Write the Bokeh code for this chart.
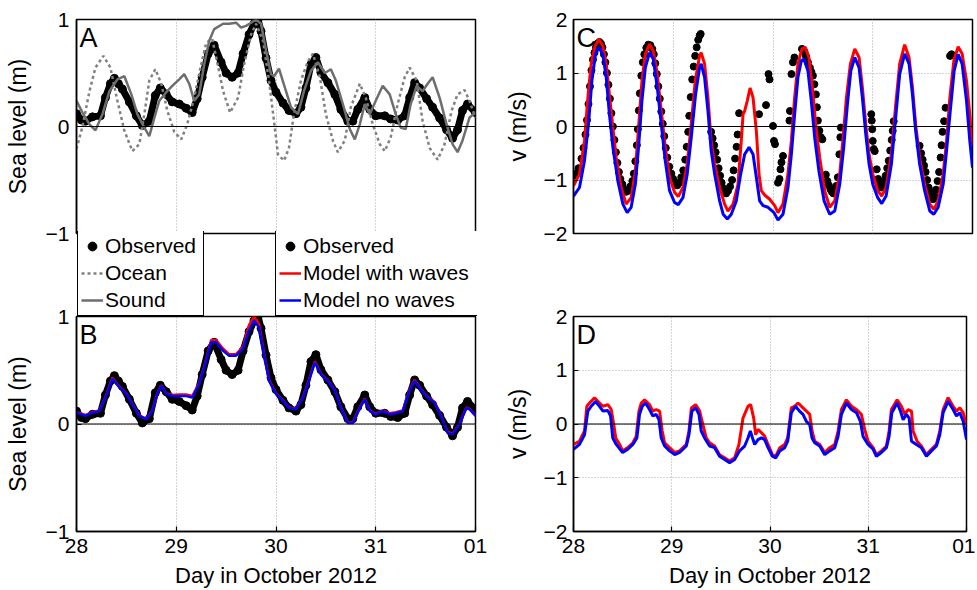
from bokeh.plotting import figure
from bokeh.layouts import row, column
from bokeh.models import FixedTicker, Span, Label, Legend, LegendItem, Range1d
from bokeh.embed import file_html
from bokeh.resources import INLINE

FONT = "Liberation Sans"

# ---------------- axes / ticks ----------------
x_ticks = [28, 29, 30, 31, 32]
x_tick_labels = ["28", "29", "30", "31", "01"]
sl_ticks = [-1, 0, 1]
sl_tick_labels = ["\u22121", "0", "1"]
v_ticks = [-2, -1, 0, 1, 2]
v_tick_labels = ["\u22122", "\u22121", "0", "1", "2"]
zero_level = [0]

# ---------------- observed sea level (A and B) ----------------
obs_t = [28.00, 28.05, 28.09, 28.16, 28.24, 28.29, 28.34, 28.38, 28.42, 28.46,
         28.53, 28.60, 28.66, 28.73, 28.79, 28.84, 28.90, 28.96, 29.03, 29.10,
         29.16, 29.21, 29.26, 29.32, 29.38, 29.45, 29.50, 29.56, 29.62, 29.67,
         29.73, 29.78, 29.82, 29.85, 29.90, 29.95, 30.00, 30.07, 30.13, 30.20,
         30.25, 30.30, 30.35, 30.40, 30.45, 30.52, 30.59, 30.65, 30.72, 30.77,
         30.82, 30.89, 30.94, 31.00, 31.09, 31.15, 31.22, 31.29, 31.34, 31.39,
         31.44, 31.51, 31.57, 31.64, 31.71, 31.77, 31.82, 31.87, 31.92, 32.00]
obs_sl = [0.12, 0.06, 0.05, 0.09, 0.10, 0.27, 0.40, 0.45, 0.40, 0.35,
          0.23, 0.10, 0.01, 0.05, 0.29, 0.36, 0.30, 0.23, 0.21, 0.17,
          0.13, 0.26, 0.46, 0.68, 0.76, 0.60, 0.50, 0.46, 0.50, 0.68,
          0.86, 0.96, 1.00, 0.89, 0.64, 0.43, 0.32, 0.22, 0.15, 0.12,
          0.18, 0.36, 0.58, 0.645, 0.505, 0.41, 0.30, 0.16, 0.05, 0.05,
          0.16, 0.27, 0.16, 0.10, 0.10, 0.07, 0.06, 0.10, 0.27, 0.41,
          0.36, 0.26, 0.18, 0.08, -0.03, -0.11, -0.03, 0.15, 0.21, 0.13]

# ---------------- ocean / sound (A) ----------------
ocean_t = [28.00, 28.06, 28.13, 28.19, 28.27, 28.34, 28.41, 28.48, 28.56, 28.63,
           28.68, 28.73, 28.79, 28.85, 28.91, 28.98, 29.05, 29.11, 29.18, 29.25,
           29.30, 29.36, 29.42, 29.47, 29.54, 29.62, 29.68, 29.75, 29.80, 29.87,
           29.93, 29.98, 30.02, 30.08, 30.13, 30.18, 30.25, 30.32, 30.37, 30.44,
           30.50, 30.57, 30.62, 30.69, 30.75, 30.84, 30.90, 30.97, 31.04, 31.09,
           31.15, 31.22, 31.29, 31.34, 31.41, 31.47, 31.54, 31.62, 31.69, 31.76,
           31.82, 31.89, 31.94, 32.00]
ocean_sl = [-0.21, 0.00, 0.33, 0.55, 0.66, 0.55, 0.24, -0.04, -0.23, -0.165,
            0.115, 0.43, 0.535, 0.40, 0.15, -0.05, -0.12, 0.02, 0.27, 0.58,
            0.78, 0.82, 0.56, 0.33, 0.13, 0.27, 0.58, 0.86, 0.96, 0.80,
            0.43, 0.05, -0.26, -0.32, -0.20, 0.115, 0.43, 0.61, 0.68, 0.46,
            0.115, -0.13, -0.24, -0.13, 0.18, 0.40, 0.27, 0.02, -0.165, -0.23,
            -0.10, 0.21, 0.46, 0.55, 0.43, 0.05, -0.20, -0.31, -0.165, 0.146,
            0.30, 0.34, 0.24, 0.08]

sound_t = [28.00, 28.06, 28.13, 28.19, 28.26, 28.33, 28.41, 28.48, 28.55, 28.61,
           28.68, 28.73, 28.78, 28.83, 28.90, 28.96, 29.03, 29.08, 29.13, 29.18,
           29.23, 29.28, 29.33, 29.38, 29.47, 29.53, 29.60, 29.65, 29.70, 29.75,
           29.80, 29.85, 29.90, 29.95, 29.98, 30.03, 30.10, 30.15, 30.22, 30.28,
           30.35, 30.42, 30.49, 30.55, 30.60, 30.67, 30.74, 30.79, 30.84, 30.89,
           30.94, 31.00, 31.07, 31.14, 31.20, 31.25, 31.30, 31.35, 31.41, 31.47,
           31.52, 31.57, 31.64, 31.71, 31.77, 31.82, 31.87, 31.94, 32.00]
sound_sl = [0.24, 0.13, 0.02, -0.035, 0.115, 0.33, 0.44, 0.47, 0.30, 0.115,
            -0.01, -0.09, 0.08, 0.24, 0.32, 0.38, 0.44, 0.49, 0.40, 0.24,
            0.30, 0.58, 0.80, 0.91, 0.96, 0.96, 0.97, 0.925, 0.94, 0.97,
            1.00, 0.96, 0.71, 0.49, 0.47, 0.54, 0.33, 0.18, 0.115, 0.33,
            0.52, 0.60, 0.50, 0.535, 0.43, 0.21, -0.025, -0.12, 0.02, 0.21,
            0.115, 0.24, 0.38, 0.30, 0.115, -0.01, -0.025, 0.21, 0.38, 0.33,
            0.40, 0.46, 0.27, 0.02, -0.165, -0.24, -0.13, 0.084, 0.13]

# ---------------- models, sea level (B) ----------------
mod_t = [28.00, 28.09, 28.16, 28.23, 28.29, 28.36, 28.43, 28.50, 28.56, 28.63,
         28.70, 28.76, 28.81, 28.85, 28.90, 28.96, 29.03, 29.10, 29.16, 29.23,
         29.30, 29.35, 29.40, 29.47, 29.53, 29.60, 29.67, 29.73, 29.78, 29.83,
         29.88, 29.93, 30.00, 30.07, 30.13, 30.20, 30.27, 30.33, 30.39, 30.45,
         30.52, 30.59, 30.65, 30.72, 30.77, 30.84, 30.89, 30.94, 31.00, 31.07,
         31.14, 31.20, 31.27, 31.34, 31.39, 31.46, 31.52, 31.59, 31.66, 31.72,
         31.77, 31.84, 31.91, 31.94, 32.00]
nowave_sl = [0.105, 0.075, 0.105, 0.12, 0.246, 0.42, 0.34, 0.28, 0.18, 0.075,
             0.044, 0.12, 0.28, 0.355, 0.28, 0.26, 0.26, 0.26, 0.246, 0.37,
             0.59, 0.76, 0.76, 0.68, 0.635, 0.635, 0.70, 0.87, 0.96, 0.90,
             0.65, 0.40, 0.28, 0.215, 0.15, 0.137, 0.246, 0.40, 0.57, 0.46,
             0.40, 0.31, 0.15, 0.01, 0.01, 0.15, 0.23, 0.12, 0.09, 0.12,
             0.09, 0.10, 0.12, 0.31, 0.40, 0.31, 0.246, 0.20, 0.06, -0.08,
             -0.097, 0.0, 0.15, 0.137, 0.075]
wave_sl = [0.11, 0.085, 0.11, 0.125, 0.25, 0.43, 0.345, 0.285, 0.185, 0.08,
           0.05, 0.125, 0.285, 0.36, 0.285, 0.27, 0.275, 0.275, 0.26, 0.38,
           0.60, 0.78, 0.78, 0.70, 0.65, 0.65, 0.72, 0.92, 1.00, 0.93,
           0.66, 0.41, 0.285, 0.22, 0.155, 0.14, 0.25, 0.41, 0.58, 0.465,
           0.405, 0.315, 0.155, 0.015, 0.015, 0.155, 0.235, 0.125, 0.095, 0.125,
           0.10, 0.11, 0.125, 0.32, 0.41, 0.315, 0.25, 0.205, 0.065, -0.075,
           -0.09, 0.005, 0.155, 0.14, 0.08]

# ---------------- velocity (C) ----------------
vobs_t = [28.00, 28.02, 28.05, 28.08, 28.10, 28.12, 28.135, 28.15, 28.165, 28.18,
          28.195, 28.21, 28.225, 28.24, 28.26, 28.275, 28.29, 28.305, 28.32, 28.335,
          28.35, 28.365, 28.38, 28.395, 28.41, 28.425, 28.44, 28.455, 28.47, 28.49,
          28.51, 28.53, 28.55, 28.57, 28.59, 28.605, 28.62, 28.635, 28.645, 28.655,
          28.665, 28.68, 28.695, 28.71, 28.73, 28.75, 28.77, 28.79, 28.805, 28.82,
          28.835, 28.85, 28.865, 28.88, 28.895, 28.91, 28.925, 28.94, 28.96, 28.98,
          29.00, 29.02, 29.04, 29.06, 29.08, 29.10, 29.12, 29.135, 29.15, 29.16,
          29.175, 29.19, 29.205, 29.22, 29.235, 29.25, 29.265, 29.275,
          29.38, 29.395, 29.41, 29.425, 29.44, 29.455, 29.47, 29.485, 29.50, 29.515,
          29.53, 29.55, 29.57, 29.59, 29.605, 29.62, 29.635, 29.645, 29.66,
          29.86, 29.93, 29.955, 29.965, 30.00, 30.01, 30.02, 30.05, 30.065, 30.075,
          30.085, 30.10,
          30.165, 30.17, 30.185, 30.20, 30.215, 30.29, 30.30, 30.315, 30.33, 30.35,
          30.37, 30.385, 30.40, 30.415, 30.43, 30.44, 30.45, 30.465, 30.48, 30.495,
          30.53, 30.545, 30.56, 30.575, 30.59, 30.605, 30.62, 30.635, 30.65, 30.665,
          30.675, 30.68,
          30.985, 30.99, 30.995, 31.00, 31.01, 31.02, 31.04, 31.055, 31.07, 31.085,
          31.10, 31.115, 31.13, 31.145, 31.16, 31.175, 31.19, 31.20, 31.21,
          31.47, 31.485, 31.50, 31.515, 31.53, 31.545, 31.56, 31.575, 31.59, 31.605,
          31.62, 31.635, 31.65, 31.665, 31.68, 31.69, 31.70, 31.715, 31.73, 31.775,
          31.79]
vobs_v = [-0.92, -0.88, -0.78, -0.60, -0.40, -0.15, 0.12, 0.42, 0.75, 1.05,
          1.25, 1.38, 1.48, 1.55, 1.58, 1.55, 1.48, 1.35, 1.20, 1.00,
          0.78, 0.52, 0.25, 0.00, -0.25, -0.48, -0.68, -0.85, -0.98, -1.08,
          -1.17, -1.22, -1.20, -1.12, -1.02, -0.88, -0.65, -0.35, -0.05, 0.30,
          0.62, 0.95, 1.20, 1.35, 1.47, 1.53, 1.52, 1.45, 1.35, 1.18,
          0.98, 0.75, 0.52, 0.28, 0.05, -0.18, -0.40, -0.58, -0.75, -0.88,
          -0.98, -1.05, -1.10, -1.05, -0.95, -0.82, -0.62, -0.38, -0.10, 0.20,
          0.55, 0.88, 1.12, 1.32, 1.48, 1.62, 1.70, 1.73,
          -0.10, -0.22, -0.35, -0.48, -0.62, -0.78, -0.92, -1.05, -1.15, -1.22,
          -1.25, -1.20, -1.12, -1.00, -0.82, -0.60, -0.38, -0.15, 0.25,
          0.23, 0.40, 0.98, 0.88, 0.01, -0.27, -0.33, -1.05, -0.98, -0.80,
          -0.67, -0.55,
          0.11, 0.29, 0.98, 1.20, 1.29, 1.45, 1.44, 1.40, 1.32, 1.20,
          1.10, 1.02, 0.95, 0.79, 0.60, 0.36, 0.11, -0.08, -0.20, -0.24,
          -0.90, -1.02, -1.10, -1.17, -1.22, -1.25, -1.20, -1.11, -0.95, -0.52,
          -0.20, -0.02,
          0.23, 0.11, -0.05, -0.27, -0.42, -0.46, -0.80, -0.98, -1.08, -1.14,
          -1.10, -1.02, -0.92, -0.78, -0.64, -0.45, -0.25, -0.08, 0.10,
          -0.36, -0.50, -0.62, -0.73, -0.85, -1.00, -1.14, -1.22, -1.28, -1.36,
          -1.30, -1.18, -1.02, -0.85, -0.58, -0.35, -0.10, 0.10, 0.35, 1.32,
          1.35]

vw_t = [28.00, 28.06, 28.11, 28.144, 28.177, 28.217, 28.254, 28.294, 28.328, 28.36,
        28.395, 28.428, 28.478, 28.528, 28.578, 28.62, 28.652, 28.686, 28.72, 28.762,
        28.80, 28.84, 28.88, 28.92, 28.963, 29.013, 29.05, 29.097, 29.14, 29.18,
        29.22, 29.264, 29.28, 29.314, 29.348, 29.38, 29.415, 29.465, 29.515, 29.548,
        29.60, 29.649, 29.682, 29.70, 29.716, 29.742, 29.77, 29.80, 29.833, 29.86,
        29.883, 29.916, 29.967, 30.017, 30.05, 30.10, 30.15, 30.184, 30.217, 30.25,
        30.29, 30.324, 30.36, 30.395, 30.428, 30.468, 30.518, 30.568, 30.619, 30.669,
        30.70, 30.736, 30.776, 30.82, 30.863, 30.896, 30.93, 30.963, 31.00, 31.05,
        31.09, 31.134, 31.187, 31.227, 31.27, 31.32, 31.364, 31.398, 31.43, 31.47,
        31.52, 31.572, 31.612, 31.656, 31.706, 31.74, 31.773, 31.813, 31.856, 31.896,
        31.94, 31.973, 32.00]
vw_v = [-1.11, -0.89, -0.27, 0.54, 1.17, 1.51, 1.63, 1.51, 1.17, 0.60,
        -0.02, -0.58, -1.14, -1.45, -1.33, -0.83, -0.02, 0.85, 1.35, 1.54,
        1.41, 0.98, 0.29, -0.39, -0.95, -1.23, -1.31, -1.14, -0.70, 0.04,
        0.85, 1.32, 1.38, 1.17, 0.54, -0.27, -0.70, -1.14, -1.45, -1.58,
        -1.45, -1.08, -0.27, 0.23, 0.29, 0.48, 0.72, 0.54, -0.08, -0.89,
        -1.20, -1.28, -1.36, -1.48, -1.61, -1.45, -0.89, -0.27, 0.54, 1.17,
        1.45, 1.48, 1.29, 0.73, 0.04, -0.58, -1.20, -1.51, -1.39, -0.89,
        -0.27, 0.54, 1.17, 1.45, 1.29, 0.73, 0.04, -0.52, -0.89, -1.20,
        -1.30, -1.14, -0.52, 0.35, 1.17, 1.53, 1.29, 0.73, 0.04, -0.58,
        -1.08, -1.45, -1.55, -1.39, -0.89, -0.27, 0.54, 1.23, 1.49, 1.36,
        0.85, 0.23, -0.35]

vn_t = [28.00, 28.06, 28.11, 28.15, 28.184, 28.22, 28.254, 28.294, 28.328, 28.36,
        28.395, 28.445, 28.495, 28.538, 28.578, 28.62, 28.652, 28.686, 28.72, 28.762,
        28.80, 28.84, 28.88, 28.92, 28.963, 29.013, 29.05, 29.097, 29.14, 29.18,
        29.224, 29.264, 29.28, 29.314, 29.348, 29.38, 29.415, 29.465, 29.50, 29.542,
        29.582, 29.632, 29.676, 29.716, 29.76, 29.80, 29.833, 29.866, 29.90, 29.95,
        30.01, 30.05, 30.10, 30.15, 30.184, 30.217, 30.25, 30.284, 30.31, 30.35,
        30.384, 30.418, 30.46, 30.512, 30.568, 30.619, 30.669, 30.709, 30.746, 30.78,
        30.82, 30.863, 30.896, 30.93, 30.963, 31.00, 31.05, 31.09, 31.134, 31.187,
        31.23, 31.27, 31.32, 31.364, 31.398, 31.43, 31.47, 31.52, 31.572, 31.612,
        31.656, 31.706, 31.74, 31.78, 31.816, 31.856, 31.896, 31.94, 31.973, 32.00]
vn_v = [-1.30, -1.14, -0.64, 0.04, 0.85, 1.35, 1.48, 1.35, 0.92, 0.23,
        -0.39, -1.02, -1.45, -1.61, -1.51, -1.08, -0.39, 0.48, 1.10, 1.38,
        1.26, 0.73, 0.04, -0.64, -1.20, -1.42, -1.46, -1.33, -0.89, -0.21,
        0.60, 1.10, 1.17, 0.92, 0.29, -0.45, -0.89, -1.39, -1.64, -1.73,
        -1.64, -1.39, -0.89, -0.52, -0.39, -0.52, -0.95, -1.39, -1.48, -1.51,
        -1.61, -1.75, -1.64, -1.14, -0.52, 0.23, 0.92, 1.23, 1.26, 1.04,
        0.48, -0.21, -0.83, -1.39, -1.64, -1.58, -1.08, -0.39, 0.42, 1.04,
        1.29, 1.10, 0.54, -0.14, -0.70, -1.08, -1.33, -1.44, -1.30, -0.70,
        0.17, 0.98, 1.36, 1.17, 0.60, -0.08, -0.70, -1.20, -1.58, -1.64,
        -1.51, -1.08, -0.45, 0.35, 1.04, 1.35, 1.17, 0.48, -0.27, -0.77]

# ---------------- velocity (D) ----------------
dw_t = [28.00, 28.061, 28.112, 28.136, 28.163, 28.214, 28.265, 28.30, 28.35, 28.384,
        28.41, 28.43, 28.47, 28.50, 28.553, 28.604, 28.638, 28.666, 28.69, 28.723,
        28.774, 28.808, 28.842, 28.876, 28.903, 28.927, 28.978, 29.03, 29.08, 29.148,
        29.175, 29.20, 29.243, 29.284, 29.317, 29.351, 29.385, 29.436, 29.487, 29.538,
        29.589, 29.64, 29.684, 29.725, 29.776, 29.803, 29.834, 29.854, 29.878, 29.912,
        29.946, 29.98, 30.024, 30.058, 30.10, 30.15, 30.18, 30.217, 30.25, 30.285,
        30.336, 30.37, 30.404, 30.428, 30.455, 30.506, 30.557, 30.608, 30.659, 30.693,
        30.727, 30.778, 30.829, 30.88, 30.93, 30.964, 30.998, 31.05, 31.083, 31.134,
        31.185, 31.212, 31.236, 31.294, 31.338, 31.372, 31.406, 31.44, 31.457, 31.497,
        31.541, 31.592, 31.643, 31.694, 31.728, 31.762, 31.813, 31.864, 31.898, 31.932,
        31.966, 32.00]
dw_v = [-0.38, -0.32, -0.13, 0.33, 0.39, 0.49, 0.39, 0.33, 0.36, 0.27,
        -0.01, -0.26, -0.38, -0.50, -0.44, -0.35, -0.23, 0.24, 0.39, 0.45,
        0.36, 0.24, 0.27, 0.24, -0.13, -0.35, -0.44, -0.53, -0.50, -0.38,
        -0.13, 0.30, 0.36, 0.24, -0.01, -0.26, -0.35, -0.41, -0.57, -0.63,
        -0.69, -0.63, -0.38, 0.11, 0.33, 0.36, 0.11, -0.20, -0.10, -0.16,
        -0.23, -0.38, -0.57, -0.60, -0.44, -0.38, -0.26, 0.30, 0.33, 0.39,
        0.30, 0.24, 0.18, -0.13, -0.32, -0.38, -0.53, -0.44, -0.38, -0.13,
        0.27, 0.45, 0.33, 0.27, 0.18, -0.10, -0.32, -0.44, -0.57, -0.50,
        -0.41, -0.13, 0.27, 0.45, 0.33, 0.18, 0.27, 0.24, -0.13, -0.32,
        -0.41, -0.57, -0.47, -0.38, -0.13, 0.27, 0.49, 0.33, 0.24, 0.30,
        0.21, -0.01]

dn_t = [28.00, 28.061, 28.112, 28.146, 28.18, 28.224, 28.265, 28.30, 28.35, 28.377,
        28.40, 28.435, 28.50, 28.553, 28.604, 28.645, 28.672, 28.70, 28.733, 28.774,
        28.808, 28.842, 28.87, 28.893, 28.927, 28.978, 29.03, 29.08, 29.148, 29.175,
        29.205, 29.243, 29.277, 29.30, 29.334, 29.385, 29.436, 29.487, 29.538, 29.589,
        29.64, 29.69, 29.742, 29.776, 29.80, 29.827, 29.844, 29.878, 29.912, 29.946,
        29.98, 30.024, 30.058, 30.10, 30.15, 30.18, 30.217, 30.26, 30.30, 30.336,
        30.37, 30.404, 30.428, 30.455, 30.506, 30.557, 30.608, 30.659, 30.693, 30.727,
        30.778, 30.829, 30.88, 30.92, 30.947, 30.998, 31.05, 31.083, 31.134, 31.185,
        31.212, 31.24, 31.294, 31.328, 31.355, 31.389, 31.416, 31.44, 31.49, 31.541,
        31.592, 31.643, 31.694, 31.728, 31.762, 31.813, 31.864, 31.898, 31.932, 31.966,
        32.00]
dn_v = [-0.47, -0.38, -0.20, 0.24, 0.33, 0.42, 0.33, 0.24, 0.25, 0.15,
        -0.26, -0.38, -0.53, -0.47, -0.38, -0.26, 0.18, 0.33, 0.39, 0.27,
        0.15, 0.18, 0.08, -0.26, -0.41, -0.50, -0.57, -0.53, -0.41, -0.20,
        0.24, 0.30, 0.18, -0.13, -0.26, -0.41, -0.44, -0.60, -0.66, -0.72,
        -0.66, -0.50, -0.41, -0.26, -0.13, -0.29, -0.38, -0.29, -0.26, -0.29,
        -0.44, -0.60, -0.63, -0.50, -0.44, -0.32, 0.21, 0.33, 0.24, 0.18,
        0.05, -0.01, -0.26, -0.35, -0.41, -0.57, -0.50, -0.44, -0.23, 0.18,
        0.39, 0.27, 0.21, 0.05, -0.23, -0.38, -0.47, -0.60, -0.53, -0.44,
        -0.23, 0.21, 0.39, 0.24, 0.08, 0.18, 0.11, -0.32, -0.38, -0.44,
        -0.60, -0.50, -0.41, -0.20, 0.21, 0.42, 0.27, 0.15, 0.21, 0.05,
        -0.29]

# ---------------- styles ----------------
OBS_COLOR = "black"
OCEAN_COLOR = "#808080"
SOUND_COLOR = "#6e6e6e"
WAVE_COLOR = "#ff0000"
NOWAVE_COLOR = "#0000ff"
GRID_COLOR = "#a8a8a8"


def make_fig(fw, fh, yr, yticks, ylabels, ylab, mb, show_x, ystand=(7, 12),
             margin=None, letter=""):
    kw = dict(frame_width=fw, frame_height=fh,
              x_range=Range1d(28, 32), y_range=Range1d(yr[0], yr[1]),
              output_backend="svg", toolbar_location=None,
              min_border_left=mb[0], min_border_right=mb[1],
              min_border_top=mb[2], min_border_bottom=mb[3])
    if margin is not None:
        kw["margin"] = margin
    p = figure(**kw)
    p.background_fill_color = "white"
    p.border_fill_color = None
    p.outline_line_color = "black"
    p.outline_line_width = 1.5
    p.outline_line_alpha = 1.0

    xt = FixedTicker(ticks=x_ticks)
    yt = FixedTicker(ticks=yticks)
    xa = p.xaxis[0]
    ya = p.yaxis[0]
    xa.ticker = xt
    ya.ticker = yt
    p.xgrid[0].ticker = xt
    p.ygrid[0].ticker = yt
    for g in (p.xgrid[0], p.ygrid[0]):
        g.grid_line_color = GRID_COLOR
        g.grid_line_dash = "1 2"
        g.grid_line_width = 1

    ya.major_label_overrides = {t: l for t, l in zip(yticks, ylabels)}
    xa.major_label_overrides = {t: l for t, l in zip(x_ticks, x_tick_labels)}
    for a in (xa, ya):
        a.major_tick_in = 5
        a.major_tick_out = 0
        a.minor_tick_line_color = None
        a.major_tick_line_color = "black"
        a.major_tick_line_width = 1.2
        a.axis_line_color = "black"
        a.axis_line_width = 1.5
        a.major_label_text_font = FONT
        a.major_label_text_font_size = "21px"
        a.major_label_text_color = "black"
        a.axis_label_text_font = FONT
        a.axis_label_text_font_style = "normal"
        a.axis_label_text_color = "black"
    ya.axis_label = ylab
    ya.axis_label_text_font_size = "23px"
    ya.major_label_standoff = ystand[0]
    ya.axis_label_standoff = ystand[1]
    if show_x:
        xa.axis_label = "Day in October 2012"
        xa.axis_label_text_font_size = "22px"
        xa.major_label_standoff = 7
        xa.axis_label_standoff = 7
    else:
        xa.visible = False

    p.add_layout(Span(location=zero_level[0], dimension="width",
                      line_color="black", line_width=1.2))
    p.add_layout(Label(x=3, y=fh - 3, x_units="screen", y_units="screen",
                       text=letter, text_font=FONT, text_font_size="27px",
                       text_baseline="top", text_align="left", text_color="black"))
    return p


# ---------------- panel A ----------------
pA = make_fig(399, 214, (-1, 1), sl_ticks, sl_tick_labels, "Sea level (m)",
              (76, 24, 19, 10), False, letter="A")
pA.line(obs_t, obs_sl, line_color=OBS_COLOR, line_width=7)
pA.scatter(obs_t, obs_sl, size=8, color=OBS_COLOR)
pA.line(ocean_t, ocean_sl, line_color=OCEAN_COLOR, line_width=2.5, line_dash="3 3")
pA.line(sound_t, sound_sl, line_color=SOUND_COLOR, line_width=2.5)

# ---------------- legend strip (between A and B) ----------------
# The series are drawn here once more, but the y range lies above all of them,
# so only their legend keys show.
pL = figure(frame_width=401, frame_height=86, x_range=Range1d(28, 32), y_range=Range1d(5, 6),
            output_backend="svg", toolbar_location=None,
            min_border_left=75, min_border_right=23, min_border_top=0, min_border_bottom=0,
            margin=(-12, 0, 0, 0))
pL.axis.visible = False
pL.grid.visible = False
pL.outline_line_color = None
pL.background_fill_color = None
pL.border_fill_color = None
obs_key = pL.scatter(obs_t, obs_sl, size=8, color=OBS_COLOR)
ocean_key = pL.line(ocean_t, ocean_sl, line_color=OCEAN_COLOR, line_width=2.5, line_dash="3 3")
sound_key = pL.line(sound_t, sound_sl, line_color=SOUND_COLOR, line_width=2.5)
wave_key = pL.line(mod_t, wave_sl, line_color=WAVE_COLOR, line_width=2.5)
nowave_key = pL.line(mod_t, nowave_sl, line_color=NOWAVE_COLOR, line_width=2.5)


def make_legend(items, x, label_w):
    return Legend(items=items, location=(x, 1), label_text_font=FONT,
                  label_text_font_size="21px", label_text_color="black",
                  glyph_width=22, glyph_height=24, label_height=24,
                  label_width=label_w, label_standoff=2, padding=3, spacing=3,
                  margin=0, border_line_color="black", border_line_width=1.2,
                  border_line_alpha=1.0, background_fill_color="white",
                  background_fill_alpha=1.0)


pL.add_layout(make_legend([LegendItem(label="Observed", renderers=[obs_key]),
                           LegendItem(label="Ocean", renderers=[ocean_key]),
                           LegendItem(label="Sound", renderers=[sound_key])], 1, 95))
pL.add_layout(make_legend([LegendItem(label="Observed", renderers=[obs_key]),
                           LegendItem(label="Model with waves", renderers=[wave_key]),
                           LegendItem(label="Model no waves", renderers=[nowave_key])], 199, 171))

# ---------------- panel B ----------------
pB = make_fig(399, 215, (-1, 1), sl_ticks, sl_tick_labels, "Sea level (m)",
              (76, 24, 12, 10), True, margin=(-13, 0, 0, 0), letter="B")
pB.line(obs_t, obs_sl, line_color=OBS_COLOR, line_width=7)
pB.scatter(obs_t, obs_sl, size=8, color=OBS_COLOR)
pB.line(mod_t, wave_sl, line_color=WAVE_COLOR, line_width=2.5)
pB.line(mod_t, nowave_sl, line_color=NOWAVE_COLOR, line_width=2.5)

# ---------------- panel C ----------------
pC = make_fig(399, 214, (-2, 2), v_ticks, v_tick_labels, "v (m/s)",
              (74, 3, 19, 10), False, ystand=(6, 10), letter="C")
pC.scatter(vobs_t, vobs_v, size=7, color=OBS_COLOR)
pC.line(vw_t, vw_v, line_color=WAVE_COLOR, line_width=3)
pC.line(vn_t, vn_v, line_color=NOWAVE_COLOR, line_width=3)

# ---------------- panel D ----------------
pD = make_fig(393, 215, (-2, 2), v_ticks, v_tick_labels, "v (m/s)",
              (74, 9, 73, 10), True, ystand=(6, 10), letter="D")
pD.line(dw_t, dw_v, line_color=WAVE_COLOR, line_width=3)
pD.line(dn_t, dn_v, line_color=NOWAVE_COLOR, line_width=3)

layout = row(column(pA, pL, pB), column(pC, pD))
open("out.html", "w").write(file_html(layout, INLINE))
